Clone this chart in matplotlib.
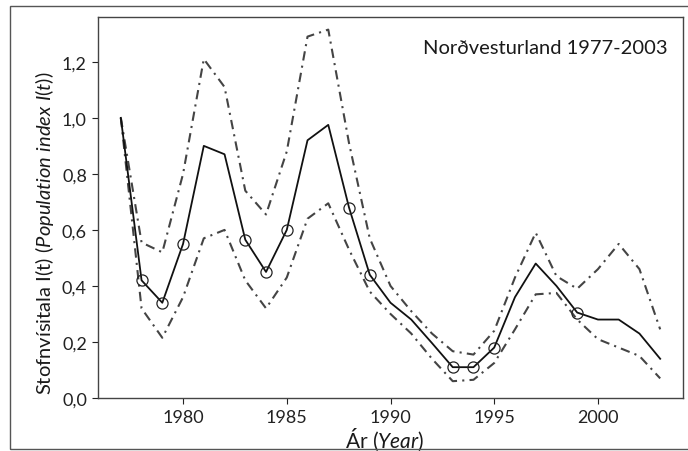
import matplotlib
matplotlib.use("Agg")
import matplotlib.pyplot as plt
from matplotlib.patches import Rectangle
from matplotlib.ticker import FuncFormatter

plt.rcParams['font.family'] = ['Lato', 'DejaVu Sans']
plt.rcParams['mathtext.fontset'] = 'custom'
plt.rcParams['mathtext.it'] = 'Lato:italic'
plt.rcParams['mathtext.rm'] = 'Lato'

years = list(range(1977, 2004))
index_mean = [1.00, 0.42, 0.34, 0.55, 0.90, 0.87, 0.565, 0.45, 0.60, 0.92, 0.975,
              0.68, 0.44, 0.34, 0.28, 0.196, 0.11, 0.11, 0.18, 0.36, 0.48, 0.40,
              0.305, 0.28, 0.28, 0.23, 0.14]
index_upper = [1.00, 0.555, 0.52, 0.80, 1.21, 1.11, 0.74, 0.655, 0.88, 1.29, 1.315,
               0.91, 0.57, 0.40, 0.31, 0.23, 0.167, 0.155, 0.24, 0.43, 0.59, 0.435,
               0.39, 0.46, 0.55, 0.46, 0.245]
index_lower = [1.00, 0.32, 0.215, 0.36, 0.57, 0.60, 0.42, 0.32, 0.43, 0.64, 0.695,
               0.53, 0.38, 0.30, 0.23, 0.14, 0.06, 0.065, 0.125, 0.245, 0.37, 0.375,
               0.28, 0.21, 0.18, 0.15, 0.07]
marked_years = [1978, 1979, 1980, 1983, 1984, 1985, 1988, 1989, 1993, 1994, 1995, 1999]
x_ticks = [1980, 1985, 1990, 1995, 2000]
y_ticks = [0.0, 0.2, 0.4, 0.6, 0.8, 1.0, 1.2]
title_text = "Norðvesturland 1977-2003"

fig = plt.figure(figsize=(6.88, 4.52), dpi=100)
ax = fig.add_axes([98/688, 1 - 399/452, 585/688, 381/452])

ax.plot(years, index_upper, color='#444444', lw=1.5, linestyle=(0, (4.5, 2.5, 1, 2.5)))
ax.plot(years, index_lower, color='#444444', lw=1.5, linestyle=(0, (4.5, 2.5, 1, 2.5)))
ax.plot(years, index_mean, color='#111111', lw=1.3)
mx = [y for y in years if y in marked_years]
my = [v for y, v in zip(years, index_mean) if y in marked_years]
ax.plot(mx, my, linestyle='none', marker='o', markersize=8, markerfacecolor='none',
        markeredgecolor='#222222', markeredgewidth=0.9)

ax.set_xlim(1975.9, 2004.1)
ax.set_ylim(0, 1.36)
ax.set_xticks(x_ticks)
ax.set_yticks(y_ticks)
ax.yaxis.set_major_formatter(FuncFormatter(lambda v, p: f"{v:.1f}".replace('.', ',')))
ax.tick_params(direction='out', length=4, width=0.8, labelsize=13, colors='#222222', pad=4)
for s in ax.spines.values():
    s.set_color('#444444')
    s.set_linewidth(1.0)

ax.text(0.973, 0.921, title_text, transform=ax.transAxes, ha='right', va='center',
        fontsize=14.5, color='#1a1a1a')

ax.set_ylabel(r"Stofnvísitala I(t) $\it{(Population\ index\ I(t))}$", fontsize=14.5,
              color='#1a1a1a')
ax.yaxis.set_label_coords(-0.0906, 0.436)
ax.set_xlabel(r"Ár $\it{(Year)}$", fontsize=15, color='#1a1a1a')
ax.xaxis.set_label_coords(0.49, -0.108)
ax.xaxis.label.set_va('center')
ax.yaxis.label.set_va('center')

fig.patches.append(Rectangle((10/688, 2/452), 1.0, 443/452, transform=fig.transFigure,
                             fill=False, edgecolor='#555555', linewidth=1.0))

fig.savefig("out.png", dpi=100)
